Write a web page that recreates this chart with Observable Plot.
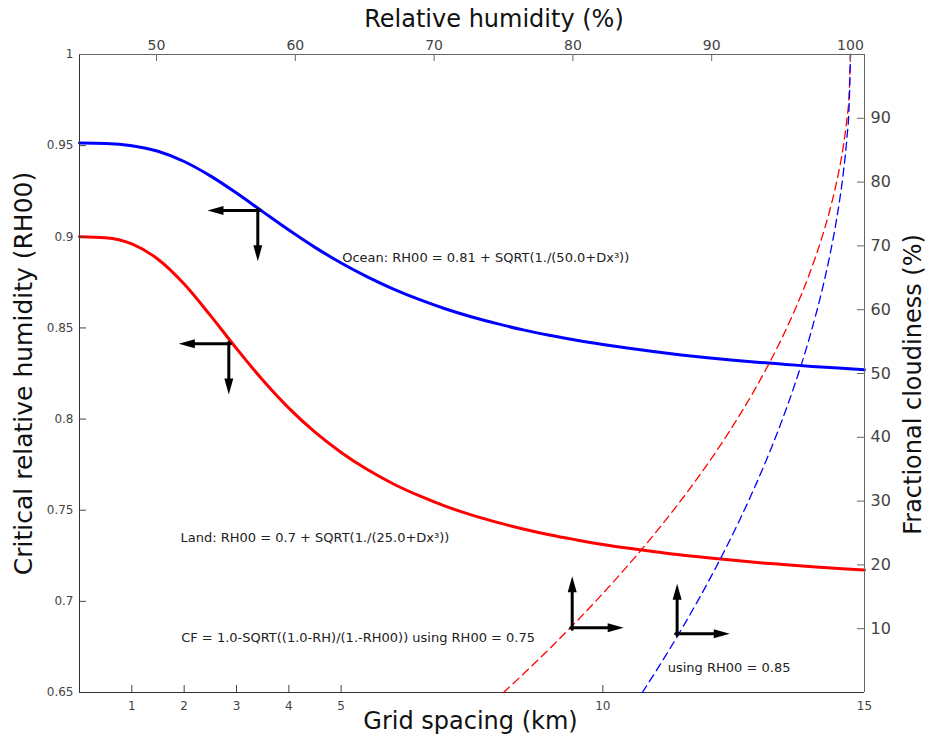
<!DOCTYPE html>
<html>
<head>
<meta charset="utf-8">
<script src="https://cdn.jsdelivr.net/npm/d3@7"></script>
<script src="https://cdn.jsdelivr.net/npm/@observablehq/plot@0.6"></script>
<style>
  body { margin: 0; background: #fff; }
  #wrap { position: relative; width: 927px; height: 736px; }
  #wrap svg { position: absolute; left: 0; top: 0; }
</style>
</head>
<body>
<div id="wrap"></div>
<script>
// ---- data ----
const gridSpacing = [0,0.5,1,1.5,2,2.5,3,3.5,4,4.5,5,5.5,6,6.5,7,7.5,8,8.5,9,9.5,10,10.5,11,11.5,12,12.5,13,13.5,14,14.5,15];
const oceanRH00 = [0.9514,0.9512,0.9500,0.9469,0.9413,0.9334,0.9240,0.9138,0.9037,0.8942,0.8856,0.8780,0.8713,0.8655,0.8604,0.8560,0.8522,0.8488,0.8458,0.8432,0.8409,0.8388,0.8369,0.8352,0.8337,0.8323,0.8311,0.8300,0.8289,0.8280,0.8271];
const landRH00 = [0.9000,0.8995,0.8961,0.8877,0.8741,0.8569,0.8387,0.8214,0.8060,0.7928,0.7817,0.7723,0.7644,0.7578,0.7521,0.7473,0.7432,0.7396,0.7364,0.7337,0.7312,0.7291,0.7272,0.7254,0.7239,0.7225,0.7212,0.7201,0.7190,0.7180,0.7172];

const rhFor075 = [75,76,77,78,79,80,81,82,83,84,85,86,87,88,89,90,91,92,93,94,95,96,97,98,98.5,99,99.5,99.75,99.9,100];
const cfFor075 = [0,2.02,4.08,6.19,8.35,10.56,12.82,15.15,17.54,20.0,22.54,25.17,27.89,30.72,33.67,36.75,40.0,43.43,47.08,51.01,55.28,60.0,65.36,71.72,75.51,80.0,85.86,90.0,93.68,100];
const rhFor085 = [85,86,87,88,89,90,91,92,93,94,95,96,97,98,98.5,99,99.5,99.75,99.9,100];
const cfFor085 = [0,3.39,6.91,10.56,14.37,18.35,22.54,26.97,31.69,36.75,42.26,48.36,55.28,63.49,68.38,74.18,81.74,87.09,91.84,100];

const xTicks = [1,2,3,4,5,10,15];
const yTicks = [0.65,0.7,0.75,0.8,0.85,0.9,0.95,1];
const rhTicks = [50,60,70,80,90,100];
const cfTicks = [10,20,30,40,50,60,70,80,90];

const xDomain = [0, 15];
const yDomain = [0.65, 1];
const rhDomain = [44.45, 101.01];
const cfDomain = [0, 100];

// annotation arrows: corner (x,y), horizontal tip xTip, vertical tip yTip
const arrowsRH00 = [
  {x: 3.407, y: 0.9144, xTip: 2.446, yTip: 0.8866},
  {x: 2.853, y: 0.8413, xTip: 1.898, yTip: 0.8135}
];
const arrowsCF = [
  {x: 79.95, y: 10.14, xTip: 83.66, yTip: 18.23},
  {x: 87.51, y: 9.2, xTip: 91.30, yTip: 17.04}
];

const notes = [
  {x: 5.02, y: 0.8886, text: "Ocean: RH00 = 0.81 + SQRT(1./(50.0+Dx³))"},
  {x: 1.93, y: 0.735, text: "Land: RH00 = 0.7 + SQRT(1./(25.0+Dx³))"},
  {x: 1.943, y: 0.6802, text: "CF = 1.0-SQRT((1.0-RH)/(1.-RH00)) using RH00 = 0.75"},
  {x: 11.24, y: 0.6637, text: "using RH00 = 0.85"}
];

// ---- build ----
const ocean = gridSpacing.map((d, i) => ({dx: d, v: oceanRH00[i]}));
const land = gridSpacing.map((d, i) => ({dx: d, v: landRH00[i]}));
const cf75 = rhFor075.map((d, i) => ({rh: d, cf: cfFor075[i]}));
const cf85 = rhFor085.map((d, i) => ({rh: d, cf: cfFor085[i]}));

const HL = 16, HW = 4.5;
const headLeft = {draw(c) { c.moveTo(0,0); c.lineTo(HL,-HW); c.lineTo(HL,HW); c.closePath(); }};
const headRight = {draw(c) { c.moveTo(0,0); c.lineTo(-HL,-HW); c.lineTo(-HL,HW); c.closePath(); }};
const headDown = {draw(c) { c.moveTo(0,0); c.lineTo(-HW,-HL); c.lineTo(HW,-HL); c.closePath(); }};
const headUp = {draw(c) { c.moveTo(0,0); c.lineTo(-HW,HL); c.lineTo(HW,HL); c.closePath(); }};

const W = 927, H = 736;
const margins = {marginLeft: 79, marginRight: 63, marginTop: 54, marginBottom: 44};
const innerW = W - 79 - 63, innerH = H - 54 - 44;
const fontFamily = "DejaVu Sans, Verdana, sans-serif";
const fmt = d => String(+d.toFixed(2));

const plotA = Plot.plot({
  width: W, height: H, ...margins,
  style: {fontFamily, background: "white"},
  x: {domain: xDomain, axis: null},
  y: {domain: yDomain, axis: null},
  marks: [
    Plot.line(ocean, {x: "dx", y: "v", stroke: "#0000ff", strokeWidth: 3, curve: "monotone-x"}),
    Plot.line(land, {x: "dx", y: "v", stroke: "#ff0000", strokeWidth: 3, curve: "monotone-x"}),
    Plot.ruleY(yTicks, {y: d => d, stroke: "#444", insetRight: innerW - 7}),
    Plot.ruleX(xTicks, {x: d => d, stroke: "#444", insetTop: innerH - 7}),
    Plot.ruleX([xDomain[0]], {x: d => d, stroke: "#333"}),
    Plot.ruleY([yDomain[0]], {y: d => d, stroke: "#333"}),
    Plot.axisY(yTicks, {anchor: "left", tickSize: 0, tickPadding: 6, fontSize: 12, tickFormat: fmt, label: null, color: "#444"}),
    Plot.axisX(xTicks, {anchor: "bottom", tickSize: 0, tickPadding: 9, fontSize: 12, label: null, color: "#444"}),
    // arrows
    Plot.arrow(arrowsRH00, {x1: "x", y1: "y", x2: "xTip", y2: "y", headLength: 0, insetEnd: 10, insetStart: -1.5, strokeWidth: 3, stroke: "black"}),
    Plot.arrow(arrowsRH00, {x1: "x", y1: "y", x2: "x", y2: "yTip", headLength: 0, insetEnd: 10, insetStart: -1.5, strokeWidth: 3, stroke: "black"}),
    Plot.dot(arrowsRH00, {x: "xTip", y: "y", symbol: headLeft, fill: "black", stroke: "none"}),
    Plot.dot(arrowsRH00, {x: "x", y: "yTip", symbol: headDown, fill: "black", stroke: "none"}),
    // notes
    Plot.text(notes, {x: "x", y: "y", text: "text", textAnchor: "start", lineAnchor: "middle", fontSize: 13, fill: "#222"}),
    // titles
    Plot.text(["Relative humidity (%)"], {text: d => d, frameAnchor: "top", textAnchor: "middle", dx: 22, dy: -35, fontSize: 24, lineAnchor: "middle", fill: "#111"}),
    Plot.text(["Grid spacing (km)"], {text: d => d, frameAnchor: "bottom", textAnchor: "middle", dx: -1.5, dy: 29, fontSize: 24, lineAnchor: "middle", fill: "#111"}),
    Plot.text(["Critical relative humidity (RH00)"], {text: d => d, frameAnchor: "left", textAnchor: "middle", dx: -56, dy: 0, rotate: -90, fontSize: 25, lineAnchor: "middle", fill: "#111"}),
    Plot.text(["Fractional cloudiness (%)"], {text: d => d, frameAnchor: "right", textAnchor: "middle", dx: 49, dy: 11, rotate: -90, fontSize: 24, lineAnchor: "middle", fill: "#111"})
  ]
});

const plotB = Plot.plot({
  width: W, height: H, ...margins,
  style: {fontFamily, background: "transparent", overflow: "visible"},
  x: {domain: rhDomain, axis: null},
  y: {domain: cfDomain, axis: null},
  marks: [
    Plot.line(cf75, {x: "rh", y: "cf", stroke: "#ff0000", strokeWidth: 1.3, strokeDasharray: "8,5", curve: "monotone-x"}),
    Plot.line(cf85, {x: "rh", y: "cf", stroke: "#0000ff", strokeWidth: 1.3, strokeDasharray: "8,5", curve: "monotone-x"}),
    Plot.ruleX(rhTicks, {x: d => d, stroke: "#666", insetBottom: innerH - 7}),
    Plot.ruleY(cfTicks, {y: d => d, stroke: "#666", insetLeft: innerW - 7}),
    Plot.ruleY([cfDomain[1]], {y: d => d, stroke: "#666"}),
    Plot.ruleX([rhDomain[1]], {x: d => d, stroke: "#666"}),
    Plot.axisX(rhTicks, {anchor: "top", tickSize: 0, tickPadding: 5, fontSize: 14, label: null, color: "#444"}),
    Plot.axisY(cfTicks, {anchor: "right", tickSize: 0, tickPadding: 6, fontSize: 16, label: null, color: "#444"}),
    Plot.arrow(arrowsCF, {x1: "x", y1: "y", x2: "xTip", y2: "y", headLength: 0, insetEnd: 10, insetStart: -1.5, strokeWidth: 3, stroke: "black"}),
    Plot.arrow(arrowsCF, {x1: "x", y1: "y", x2: "x", y2: "yTip", headLength: 0, insetEnd: 10, insetStart: -1.5, strokeWidth: 3, stroke: "black"}),
    Plot.dot(arrowsCF, {x: "xTip", y: "y", symbol: headRight, fill: "black", stroke: "none"}),
    Plot.dot(arrowsCF, {x: "x", y: "yTip", symbol: headUp, fill: "black", stroke: "none"})
  ]
});

const wrap = document.getElementById("wrap");
wrap.appendChild(plotA);
wrap.appendChild(plotB);
</script>
</body>
</html>
